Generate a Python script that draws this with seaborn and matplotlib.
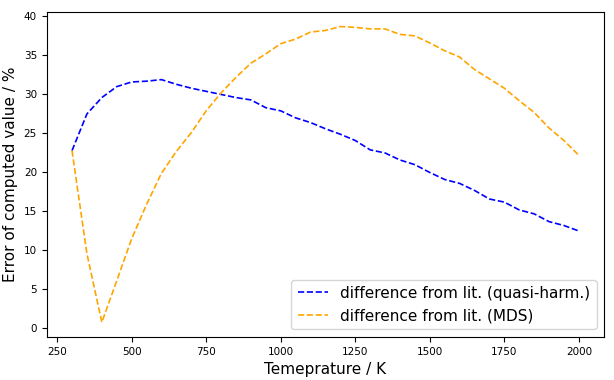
import pandas as pd
import matplotlib
matplotlib.use("Agg")
import matplotlib.pyplot as plt
import seaborn as sns

# temperatures (K)
temps = list(range(300, 2001, 50))

# error vs literature, quasi-harmonic
err_qh = [22.7, 27.4, 29.5, 30.9, 31.5, 31.6, 31.8, 31.2, 30.7, 30.3,
          29.9, 29.5, 29.2, 28.2, 27.8, 26.9, 26.3, 25.5, 24.8, 24.0,
          22.8, 22.4, 21.5, 20.9, 19.9, 19.0, 18.5, 17.6, 16.5, 16.1,
          15.1, 14.6, 13.6, 13.1, 12.4]

# error vs literature, MDS
err_mds = [22.7, 9.5, 0.7, 6.0, 11.4, 15.8, 19.8, 22.6, 25.0, 27.8,
           30.1, 32.1, 33.9, 35.1, 36.4, 37.0, 37.9, 38.1, 38.6, 38.5,
           38.3, 38.3, 37.6, 37.4, 36.5, 35.5, 34.7, 33.1, 31.9, 30.7,
           29.1, 27.6, 25.6, 24.0, 22.1]

df = pd.DataFrame({'T': temps, 'qh': err_qh, 'mds': err_mds})

fig, ax = plt.subplots(figsize=(6.14, 3.8), dpi=100)
sns.lineplot(data=df, x='T', y='qh', ax=ax, color='blue', linestyle='--',
             linewidth=1.2, label='difference from lit. (quasi-harm.)')
sns.lineplot(data=df, x='T', y='mds', ax=ax, color='orange', linestyle='--',
             linewidth=1.2, label='difference from lit. (MDS)')

ax.set_xlabel('Temeprature / K', fontsize=11)
ax.set_ylabel('Error of computed value / %', fontsize=11)
ax.tick_params(labelsize=7.5)
ax.set_xticks([250, 500, 750, 1000, 1250, 1500, 1750, 2000])
ax.legend(loc='lower right', fontsize=11)

fig.subplots_adjust(left=0.076, right=0.984, top=0.969, bottom=0.113)
fig.savefig('out.png', dpi=100)
